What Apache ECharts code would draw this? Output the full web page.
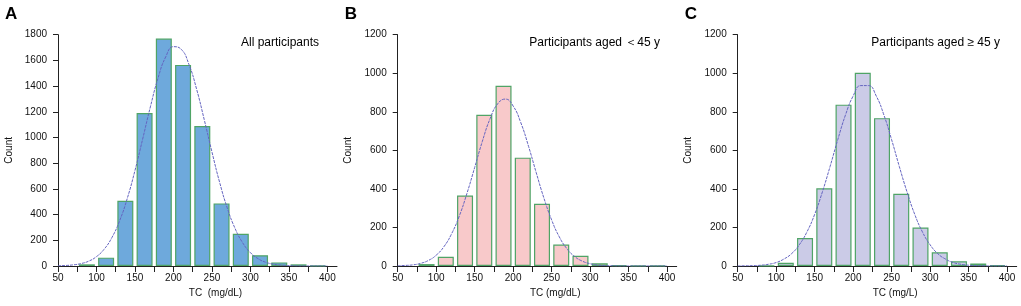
<!DOCTYPE html>
<html>
<head>
<meta charset="utf-8">
<style>
  html, body { margin: 0; padding: 0; background: #fff; }
  #chart { width: 1021px; height: 306px; }
</style>
<script src="https://cdn.jsdelivr.net/npm/echarts@6/dist/echarts.min.js"></script>
</head>
<body>
<div id="chart"></div>
<script>
// histogram bins (mg/dL), 25 wide
const binStarts = [75, 100, 125, 150, 175, 200, 225, 250, 275, 300, 325, 350, 375];
const binWidth = 25;

const countsAll = [13, 65, 508, 1190, 1770, 1565, 1090, 487, 250, 84, 28, 13, 3];
const countsYoung = [10, 48, 366, 785, 935, 562, 323, 111, 53, 14, 4, 1, 1];
const countsOld = [2, 17, 145, 403, 837, 1002, 767, 375, 200, 71, 25, 13, 3];

// fitted normal curves, every 10 mg/dL
const curveX = [50, 60, 70, 80, 90, 100, 110, 120, 130, 140, 150, 160, 170, 180, 190, 200,
  210, 220, 230, 240, 250, 260, 270, 280, 290, 300, 310, 320, 330, 340, 350, 360, 370, 380, 390, 400];
const curveAll = [2, 4, 9, 19, 38, 73, 131, 221, 351, 526, 743, 988, 1238, 1463, 1628, 1707,
  1687, 1571, 1378, 1139, 888, 651, 450, 293, 180, 104, 57, 29, 14, 6, 3, 1, 0, 0, 0, 0];
const curveYoung = [1, 3, 6, 14, 29, 56, 100, 167, 259, 377, 511, 647, 764, 842, 866, 830,
  743, 621, 484, 352, 239, 151, 89, 49, 25, 12, 5, 2, 1, 0, 0, 0, 0, 0, 0, 0];
const curveOld = [0, 1, 2, 4, 9, 18, 36, 64, 110, 177, 268, 384, 516, 655, 783, 882,
  936, 936, 882, 783, 655, 516, 384, 268, 177, 110, 64, 36, 18, 9, 4, 2, 1, 0, 0, 0];

const xTicks = [50, 75, 100, 125, 150, 175, 200, 225, 250, 275, 300, 325, 350, 375, 400];
const xLabels = [50, 100, 150, 200, 250, 300, 350, 400];

const panels = [
  { letter: 'A', note: 'All participants', xName: 'TC  (mg/dL)', yMax: 1800,
    counts: countsAll, curve: curveAll, fill: '#6ea9dc' },
  { letter: 'B', note: 'Participants aged ＜45 y', xName: 'TC (mg/dL)', yMax: 1200,
    counts: countsYoung, curve: curveYoung, fill: '#f8c9ca' },
  { letter: 'C', note: 'Participants aged ≥ 45 y', xName: 'TC (mg/L)', yMax: 1200,
    counts: countsOld, curve: curveOld, fill: '#cbcbe7' }
];

const FONT = 'Liberation Sans, Arial, sans-serif';
const lefts = [58, 397.7, 737.7];
const noteRight = [319, 660, 1000];

const grid = [], xAxis = [], yAxis = [], series = [], graphic = [];

panels.forEach((p, i) => {
  grid.push({ left: lefts[i], top: 34.7, width: 279, height: 231.3 });

  xAxis.push({
    type: 'value', gridIndex: i, min: 50, max: 412.5,
    name: p.xName, nameLocation: 'middle', nameGap: 20,
    nameTextStyle: { fontFamily: FONT, fontSize: 10, color: '#111', padding: [0, 0, 0, 36] },
    axisLine: { lineStyle: { color: '#222', width: 1 } },
    axisTick: { show: true, length: 6, customValues: xTicks, lineStyle: { color: '#222' } },
    axisLabel: { customValues: xLabels, fontFamily: FONT, fontSize: 10, color: '#111', margin: 7 },
    splitLine: { show: false }
  });

  yAxis.push({
    type: 'value', gridIndex: i, min: 0, max: p.yMax, interval: 200,
    name: 'Count', nameLocation: 'middle', nameGap: 44,
    nameTextStyle: { fontFamily: FONT, fontSize: 10, color: '#111' },
    axisLine: { show: true, lineStyle: { color: '#222', width: 1 } },
    axisTick: { show: true, length: 5, lineStyle: { color: '#222' } },
    axisLabel: { fontFamily: FONT, fontSize: 10, color: '#111', margin: 11,
      formatter: (v) => String(v) },
    splitLine: { show: false }
  });

  series.push({
    type: 'bar', xAxisIndex: i, yAxisIndex: i,
    barWidth: 16,
    data: binStarts.map((s, k) => [s + binWidth / 2, p.counts[k]]),
    itemStyle: { color: p.fill, borderColor: '#4fa466', borderWidth: 1.2 },
    silent: true
  });

  series.push({
    type: 'line', xAxisIndex: i, yAxisIndex: i,
    data: curveX.map((x, k) => [x, p.curve[k]]),
    smooth: true, symbol: 'none',
    lineStyle: { color: '#6464c0', width: 1, type: [3, 1] },
    z: 5, silent: true
  });

  graphic.push({
    type: 'text', left: lefts[i] - 53, top: 6,
    style: { text: p.letter, font: 'bold 17px ' + FONT, fill: '#000' }
  });
  graphic.push({
    type: 'text', right: 1021 - noteRight[i], top: 37,
    style: { text: p.note, font: '12px ' + FONT, fill: '#000' }
  });
});

const chart = echarts.init(document.getElementById('chart'));
chart.setOption({
  backgroundColor: '#fff',
  animation: false,
  grid, xAxis, yAxis, series, graphic
});
</script>
</body>
</html>
